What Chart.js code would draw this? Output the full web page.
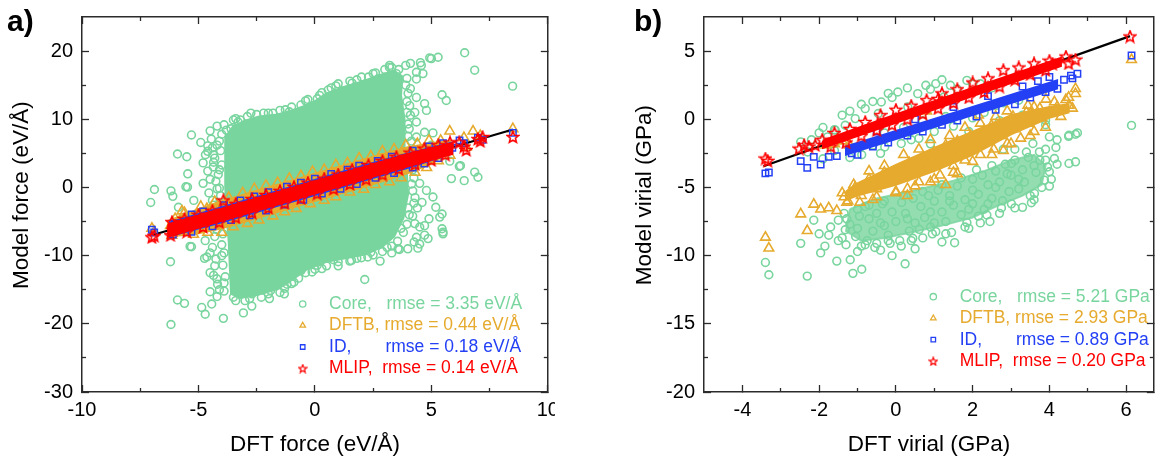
<!DOCTYPE html>
<html><head><meta charset="utf-8">
<script src="https://cdn.jsdelivr.net/npm/chart.js@4.4.1/dist/chart.umd.min.js"></script>
<style>
html,body{margin:0;padding:0;background:#fff;overflow:hidden}
#wrap{position:relative;width:1161px;height:459px;background:#fff}
#ca{position:absolute;left:0;top:0}
#cb{position:absolute;left:580px;top:0}
</style></head><body>
<div id="wrap"><canvas id="ca" width="555" height="459"></canvas><canvas id="cb" width="581" height="459"></canvas></div>
<script>
// ================= Panel a) forces =================
const forceXTicks = [-10, -5, 0, 5, 10];
const forceXMinorTicks = [-7.5, -2.5, 2.5, 7.5];
const forceYTicks = [-30, -20, -10, 0, 10, 20];
const forceYMinorTicks = [-25, -15, -5, 5, 15];
const forceFitLine = [[-7, -7], [8.5, 8.5]];
const forceLegend = ['Core,   rmse = 3.35 eV/Å', 'DFTB, rmse = 0.44 eV/Å', 'ID,       rmse = 0.18 eV/Å', 'MLIP,  rmse = 0.14 eV/Å'];

// outline of the saturated (fully overlapping) Core cloud
const coreForceCloud = [[-3.85,7.4],[-3.5,9.0],[-3.0,9.8],[-2.4,10.4],[-1.6,10.7],[-0.8,11.5],[-0.1,12.4],[0.5,13.8],[1.2,14.7],[2.0,15.5],[2.8,16.5],[3.4,17.1],[3.75,16.3],[3.7,13.5],[3.85,10.0],[3.85,6.0],[3.95,2.0],[4.0,-1.0],[3.8,-4.5],[3.4,-7.2],[2.9,-8.7],[2.2,-9.8],[1.3,-10.4],[0.5,-10.9],[-0.3,-11.9],[-1.0,-13.6],[-1.6,-14.9],[-2.4,-15.7],[-3.2,-16.2],[-3.6,-15.6],[-3.65,-12.0],[-3.7,-8.0],[-3.8,-4.0],[-3.85,0.0],[-3.85,4.0],[-3.85,7.4]];
const coreForce = [[-5.9,4.9],[-5.5,4.5],[-5.3,7.7],[-4.5,8.3],[-4.2,9.0],[-3.9,9.2],[-3.5,9.9],[-3.4,10.1],[-2.75,10.9],[-2.0,10.9],[-1.27,11.4],[-0.64,11.1],[-0.07,12.0],[0.57,14.3],[1.14,14.1],[-4.7,4.8],[-4.36,4.8],[-4.36,3.0],[-5.46,2.0],[-5.47,0.05],[-4.8,0.6],[-4.2,-0.2],[-5.54,0.1],[-6.89,-0.3],[-6.18,-0.5],[-6.1,-1.3],[-7.05,-2.2],[-5.2,-1.9],[-5.86,-2.9],[-4.6,6.1],[-4.9,6.6],[-4.4,5.8],[-4.6,2.4],[-4.8,3.6],[-4.5,1.2],
[-6.2,-10.9],[-5.36,-8.65],[-5.3,-8.7],[-4.74,-10.4],[-4.64,-10.2],[-4.71,-7.8],[-4.21,-13.4],[-4.18,-14.2],[-5.9,-16.5],[-5.6,-17.0],[-6.18,-20.1],[-4.86,-17.6],[-4.71,-18.6],[-4.43,-17.1],[-3.93,-19.2],[-3.07,-18.4],[-2.71,-17.4],[-1.95,-16.3],[-1.31,-15.6],[-0.12,-12.4],[-1.0,-14.1],[-4.5,-5.5],[-4.6,-3.6],[-4.4,-8.8],[-4.3,-11.5],[-4.1,-15.0],[-4.5,-12.5],[-4.9,-5.0],[-4.4,-1.9],
[2.14,-13.5],[2.8,-10.8],[1.57,-10.7],[2.27,-10.2],[3.63,-9.1],[3.99,-9.0],[4.42,-8.9],[4.26,-8.0],[4.5,-8.3],[4.86,-7.5],[5.5,-6.55],[5.46,-6.06],[5.5,-6.8],[4.71,-7.0],[4.5,-5.8],[4.71,-5.6],[4.29,-5.3],[5.36,-4.35],[4.9,-4.6],[5.46,-3.9],[5.19,-2.9],[5.07,-1.4],[4.79,-0.44],[3.57,-9.0],[4.36,-7.3],[4.4,-3.0],[4.6,-2.2],[4.3,-1.5],[4.5,0.6],[4.2,-4.2],[3.3,-9.6],[1.0,-11.5],[0.3,-11.9],
[4.93,19.0],[5.29,19.1],[5.0,18.9],[4.53,18.3],[6.43,19.75],[6.86,17.2],[8.49,14.86],[4.36,16.9],[4.57,17.9],[4.64,16.7],[4.36,15.9],[5.46,13.6],[5.64,12.75],[4.36,13.2],[4.71,12.3],[4.79,11.3],[4.07,12.0],[4.29,11.0],[4.0,9.3],[4.36,9.6],[4.71,8.1],[5.07,8.0],[4.36,7.4],[6.2,3.1],[5.86,1.3],[6.86,2.25],[7.0,1.5],[5.79,3.86],[6.25,3.2],[6.41,1.0],[3.21,17.9],[2.5,16.7],[3.3,17.6],[4.1,14.5],[4.3,5.5],[4.6,4.5],[4.2,3.2],[5.0,6.2],[4.1,18.2],[3.9,17.9],[2.0,16.2],[1.5,15.6],[0.9,14.9],[0.1,13.0],
[-4.1,6.8],[-4.0,3.3],[-4.2,-6.2],[-4.0,-10.0],[-3.9,-14.0],[-4.15,1.9],[-4.05,-2.6],[-3.2,9.9],[-2.5,10.7],[-1.8,10.9],[-1.0,11.8],[-0.4,12.7],[0.3,13.9],[1.8,15.8],[2.6,16.8],[3.0,17.3],[3.6,17.3],[3.9,15.0],[3.95,11.0],[4.0,7.5],[4.1,4.0],[4.15,0.5],[4.0,-3.0],[3.7,-6.0],[3.1,-8.8],[2.5,-9.9],[1.8,-10.4],[1.0,-10.9],[0.0,-12.0],[-0.7,-13.3],[-1.3,-14.8],[-2.0,-15.6],[-2.8,-16.3],[-3.4,-16.6],
[-3.6,8.6],[-3.3,9.6],[-2.9,10.4],[-2.2,10.9],[-1.5,11.3],[-1.1,11.1],[-0.6,12.1],[-0.3,12.9],[0.2,13.5],[0.7,14.6],[1.0,15.2],[1.6,15.3],[2.3,16.2],[2.7,15.9],[3.2,17.6],[3.5,16.7],
[3.95,16.0],[4.0,13.8],[3.95,12.6],[4.1,10.6],[4.05,8.6],[4.15,6.8],[4.05,5.2],[4.2,2.6],[4.25,1.4],[4.2,-0.5],[4.25,-2.3],[4.05,-4.0],[3.95,-5.4],[3.8,-6.6],[3.55,-7.9],
[3.3,-8.6],[2.9,-9.4],[2.4,-9.5],[2.0,-10.3],[1.5,-10.8],[0.8,-10.6],[0.5,-11.5],[0.1,-11.4],[-0.4,-12.5],[-0.6,-12.2],[-0.9,-13.9],[-1.2,-14.2],[-1.5,-15.4],[-1.9,-15.1],[-2.3,-16.1],[-2.7,-15.6],[-3.0,-16.6],[-3.5,-16.1],
[-3.9,-15.2],[-3.85,-13.1],[-3.95,-11.4],[-3.9,-9.6],[-4.0,-8.4],[-3.95,-6.8],[-4.1,-5.4],[-4.0,-4.2],[-4.2,-3.2],[-4.05,-1.2],[-4.1,-0.1],[-4.25,0.9],[-4.1,2.6],[-4.3,4.3],[-4.05,5.4],[-4.2,6.2],[-4.0,7.8],[-3.8,8.4],
[-4.45,7.1],[-4.6,5.3],[-4.35,3.7],[-4.55,-0.8],[-4.35,-2.6],[-4.65,-4.6],[-4.3,-7.2],[-4.5,-9.6],[-4.25,-10.5],[-4.35,-12.9],[-4.2,-16.0],[-4.5,-15.3]];

const dftbForceBand = [[-6.3,-4.9],[-5.0,-3.2],[-4.0,-2.0],[-3.0,-1.0],[-2.0,0.0],[-1.0,1.0],[0.0,2.0],[1.0,3.0],[2.0,4.0],[3.0,5.0],[4.0,5.9],[5.0,6.5],[5.8,6.8],[5.8,5.2],[5.0,3.5],[4.0,2.1],[3.0,1.0],[2.0,0.0],[1.0,-1.0],[0.0,-2.0],[-1.0,-3.0],[-2.0,-4.0],[-3.0,-5.0],[-4.0,-6.0],[-5.0,-6.7],[-6.3,-7.2],[-6.3,-4.9]];
const dftbForce = [[-5.6,-3.7],[-4.9,-2.8],[-4.3,-2.1],[-3.7,-1.5],[-3.1,-0.8],[-2.6,-0.2],[-2.1,0.3],[-1.6,0.7],[-1.1,1.3],[-0.6,1.7],[-0.1,2.3],[0.4,2.6],[0.9,3.3],[1.4,3.6],[1.9,4.3],[2.4,4.6],[2.9,5.3],[3.4,5.6],[3.9,6.2],[4.4,6.4],[4.9,6.9],[5.4,6.9],[5.79,8.26],[6.79,8.26],[8.5,8.6],[7.1,7.6],[6.4,7.3],
[-6.14,-7.04],[-5.57,-6.55],[-5.21,-6.9],[-4.6,-6.6],[-4.0,-6.6],[-3.5,-5.8],[-2.9,-5.3],[-2.4,-4.8],[-1.8,-4.2],[-1.3,-3.6],[-0.8,-3.1],[-0.2,-2.4],[0.4,-1.9],[0.9,-1.4],[1.5,-0.7],[2.1,-0.3],[2.6,0.4],[3.2,0.8],[3.7,1.4],[4.3,2.2],[4.8,2.9],[5.3,3.9],[5.8,4.7],[6.5,5.9],
[-7.0,-6.0],[-6.9,-6.5],[-6.2,-5.6],[-5.71,-3.47],[-6.0,-4.6],[-4.64,-3.1]];

const idForceBand = [[-6.2,-5.1],[-4.0,-2.9],[-2.0,-0.9],[0.0,1.1],[2.0,3.1],[4.0,5.0],[5.9,6.6],[5.9,5.0],[4.0,2.9],[2.0,0.9],[0.0,-1.1],[-2.0,-3.1],[-4.0,-5.1],[-6.2,-7.1],[-6.2,-5.1]];
const idForce = [[-5.29,-3.96],[-4.8,-3.5],[-3.9,-2.6],[-3.2,-1.9],[-2.6,-1.3],[-2.0,-0.7],[-1.2,0.1],[-0.6,0.7],[0.0,1.3],[0.7,2.0],[1.4,2.6],[1.9,3.2],[2.7,3.9],[3.3,4.5],[4.2,5.4],[4.9,6.0],[5.5,6.5],
[-6.1,-6.9],[-5.3,-6.5],[-4.4,-5.7],[-3.6,-4.8],[-2.8,-4.1],[-2.1,-3.4],[-1.3,-2.5],[-0.5,-1.8],[0.3,-0.9],[1.1,-0.2],[1.8,0.5],[2.6,1.4],[3.4,2.1],[4.2,2.9],[4.7,3.5],[5.3,4.3],
[-7.0,-6.2],[-6.9,-6.6],[6.21,6.9],[6.4,6.5],[7.0,7.3],[7.2,7.0],[8.5,8.0],[5.9,5.8],[-6.1,-5.3]];

const mlipForceBand = [[-6.3,-5.4],[-4.0,-3.1],[-2.0,-1.1],[0.0,0.9],[2.0,2.9],[4.0,4.9],[5.9,6.5],[5.9,4.9],[4.0,3.1],[2.0,1.1],[0.0,-0.9],[-2.0,-2.9],[-4.0,-4.9],[-6.3,-7.2],[-6.3,-5.4]];
const mlipForce = [[-6.14,-5.08],[-5.6,-4.6],[-5.0,-4.0],[-4.4,-3.4],[-3.93,-1.9],[-3.4,-2.4],[-2.7,-1.7],[-2.1,-1.1],[-1.5,-0.5],[-0.9,0.1],[-0.3,0.7],[0.4,1.3],[1.0,1.9],[1.6,2.6],[2.3,3.3],[2.9,3.9],[3.5,4.5],[4.1,5.1],[4.7,5.7],[5.3,6.2],[5.8,6.6],
[-6.2,-7.0],[-5.5,-6.5],[-4.8,-5.8],[-4.1,-5.1],[-3.4,-4.4],[-2.7,-3.7],[-2.0,-3.0],[-1.3,-2.3],[-0.6,-1.6],[0.1,-0.9],[0.8,-0.2],[1.5,0.5],[2.2,1.2],[2.9,1.9],[3.6,2.7],[4.3,3.4],[5.0,4.0],[5.6,4.8],
[-7.0,-7.3],[-6.9,-7.1],[-6.1,-6.2],[-6.0,-5.6],[6.2,6.6],[6.4,6.0],[6.5,5.5],[7.0,7.1],[7.1,6.8],[7.2,7.4],[8.5,7.4]];

// ================= Panel b) virials =================
const virialXTicks = [-4, -2, 0, 2, 4, 6];
const virialXMinorTicks = [-3, -1, 1, 3, 5];
const virialYTicks = [-20, -15, -10, -5, 0, 5];
const virialYMinorTicks = [-17.5, -12.5, -7.5, -2.5, 2.5];
const virialFitLine = [[-3.45, -3.45], [6.1, 6.1]];
const virialLegend = ['Core,   rmse = 5.21 GPa', 'DFTB, rmse = 2.93 GPa', 'ID,       rmse = 0.89 GPa', 'MLIP,  rmse = 0.20 GPa'];

const coreVirialCloud = [[-1.2,-6.6],[-0.5,-5.8],[0.5,-5.2],[1.5,-4.5],[2.3,-3.8],[3.0,-3.0],[3.6,-2.6],[3.9,-3.4],[3.8,-4.8],[3.3,-5.6],[2.6,-6.4],[2.0,-7.2],[1.2,-7.8],[0.4,-8.3],[-0.3,-8.7],[-0.9,-8.9],[-1.3,-8.2],[-1.2,-6.6]];
const coreVirial = [[-3.4,-10.5],[-3.31,-11.4],[-2.48,-9.1],[-2.31,-11.5],[-2.14,-7.4],[-1.96,-9.8],[-1.75,-8.5],[-1.54,-10.4],[-1.19,-10.3],[-1.12,-11.3],[-0.89,-11.0],[-1.28,-7.3],[-1.32,-8.1],[0.14,-9.3],[0.24,-10.6],[0.44,-8.73],[1.04,-8.24],[0.61,-8.07],[1.53,-9.05],[1.85,-7.58],[2.15,-7.1],[2.37,-7.02],[2.78,-5.98],[3.01,-6.2],[3.3,-6.46],[3.53,-6.12],[3.61,-5.44],[3.87,-4.46],[4.0,-3.85],[4.2,-3.3],[4.13,-2.88],[4.51,-3.24],[4.68,-3.12],[4.17,-2.07],[4.0,-1.29],[4.51,-1.17],[4.73,-1.0],[3.57,-1.78],[3.74,-2.39],[3.4,-2.4],[3.1,-2.2],[2.8,-2.2],[3.01,-3.24],[-0.5,-9.1],[-0.2,-8.9],[-0.8,-9.2],[-1.0,-6.6],[-0.7,-6.3],[-0.3,-6.0],[0.2,-5.6],[0.7,-5.3],[1.2,-4.8],[1.7,-4.3],[2.1,-3.7],[2.5,-3.4],[2.0,-5.2],[1.4,-6.0],[0.9,-6.8],[0.3,-7.3],[-0.4,-7.6],[2.6,-5.0],[3.2,-4.4],[3.6,-3.4],[2.9,-4.0],[1.0,-7.6],[1.9,-6.6],[-1.0,-8.0],[0.5,-9.5],[-0.1,-10.0],[1.2,-9.0],[2.4,-6.2],[3.9,-3.0],[4.2,-1.5],[3.9,-0.07],[3.9,-0.4],[4.5,-1.25],[4.68,-1.1],[6.14,-0.45],
[-1.35,-6.9],[-1.2,-7.7],[-1.05,-8.6],[-1.3,-9.2],[-0.95,-7.1],[-0.8,-6.4],[-0.7,-7.3],[-0.6,-8.2],[-0.75,-8.9],[-0.5,-6.9],[-0.55,-9.4],[-0.35,-6.2],[-0.3,-7.8],[-0.2,-8.5],[-0.1,-6.8],[0.0,-7.5],[-0.15,-9.1],[0.15,-6.1],[0.25,-6.9],[0.35,-8.2],[0.45,-5.8],[0.5,-7.6],[0.4,-8.9],[0.65,-6.4],[0.75,-7.2],[0.85,-5.6],[0.95,-8.4],[1.0,-6.0],[0.9,-7.9],[1.1,-5.2],[1.2,-6.8],[1.3,-7.5],[1.4,-5.6],[1.45,-8.3],[1.5,-6.3],[1.6,-4.9],[1.7,-7.0],[1.8,-5.9],[1.9,-8.0],[2.0,-4.4],[2.0,-6.2],[2.15,-5.5],[2.25,-4.1],[2.3,-6.6],[2.4,-4.8],[2.5,-5.8],[2.45,-7.5],[2.6,-3.8],[2.7,-4.6],[2.75,-6.5],[2.85,-3.3],[2.95,-5.3],[3.0,-4.1],[3.1,-3.0],[3.2,-5.1],[3.3,-3.7],[3.35,-4.6],[3.45,-2.8],[3.5,-5.6],[3.65,-3.9],[3.75,-3.0],[3.8,-5.0],[3.9,-2.2],[4.05,-4.4],[3.95,-3.5],[-1.7,-7.9],[-1.85,-9.3],[-1.5,-8.9],[-2.0,-8.4],
[-0.9,-9.3],[-0.4,-9.6],[0.1,-8.9],[0.7,-8.7],[1.3,-8.4],[1.8,-7.9],[2.2,-7.6],[2.7,-6.9],[3.1,-6.5],[3.6,-5.9],[4.0,-4.9],[-1.4,-8.7],[-1.5,-7.4],[-1.0,-9.7],
[0.05,2.0],[-0.8,0.78],[0.78,2.49],[1.04,2.61],[1.85,2.85],[-0.38,1.27],[-1.06,0.05],[-1.32,-0.44],[-1.58,-0.8],[-2.48,-1.66],[0.14,-1.78],[-0.89,-2.6],[1.42,2.49],[0.57,1.88],[1.25,1.63],[0.31,0.9],[-0.46,0.42],[-1.78,-1.29],[-1.6,-0.76],[-0.29,-2.03],[-1.2,-2.8],[-1.6,-2.3],[-0.6,-1.9],[0.6,-1.4],[1.0,-0.9],[1.5,-0.5],[2.0,0.1],[2.3,0.5],[1.7,0.3],[2.5,2.3],[2.2,2.6],[1.6,2.2],[-0.1,1.6],[-1.4,0.3],[-2.0,-1.0],[-1.1,-2.1],[0.4,-1.5],[2.8,1.2],[3.2,1.4],
[-2.2,-1.5],[-1.9,-0.6],[-1.2,0.6],[-0.9,1.1],[-0.6,1.3],[-0.2,1.9],[0.3,2.3],[0.9,2.2],[1.2,2.9],[2.0,2.6],[-0.3,-1.0],[0.2,-0.6],[0.7,-0.1],[1.3,0.2],[2.6,1.0],[3.3,0.3],[3.6,0.0],[-2.3,-2.4],[-1.9,-2.9],[-0.4,-2.5],[0.9,-1.8],[1.9,-0.9],[2.7,-0.1]];

const dftbVirialBand = [[-1.3,-5.3],[-1.0,-4.7],[0.0,-3.35],[1.0,-2.1],[2.0,-0.9],[3.0,0.3],[4.0,0.9],[4.5,1.1],[4.5,0.5],[4.0,0.1],[3.0,-1.1],[2.0,-2.6],[1.0,-3.8],[0.0,-4.8],[-1.0,-5.6],[-1.3,-5.9],[-1.3,-5.3]];
const dftbVirial = [[-3.4,-8.66],[-3.31,-9.46],[-2.48,-6.95],[-2.31,-8.17],[-2.14,-6.24],[-1.96,-6.6],[-1.75,-6.5],[-1.54,-6.7],[-1.28,-6.1],[-1.06,-5.0],[-0.94,-6.1],[-1.35,-5.7],[-1.2,-5.4],
[-0.7,-3.8],[-0.3,-3.4],[0.2,-2.6],[0.6,-2.2],[0.9,-1.5],[1.4,-1.2],[1.8,-0.6],[2.2,-0.3],[2.6,0.2],[2.9,0.6],[3.44,1.02],[3.6,0.9],[3.91,1.46],[4.13,1.27],[4.43,1.44],[4.51,1.02],[4.68,2.24],[4.68,1.88],[2.15,0.3],[2.49,-0.45],
[-0.5,-5.7],[0.0,-5.4],[0.5,-4.9],[1.0,-4.4],[1.5,-3.9],[2.0,-3.1],[2.5,-2.6],[3.0,-1.8],[3.5,-1.2],[3.9,-0.6],[0.3,-5.6],[1.3,-4.8],[2.8,-2.3],
[-1.4,-5.4],[-1.1,-4.8],[-0.9,-5.6],[-0.7,-4.4],[-0.5,-5.1],[-0.3,-3.9],[-0.2,-4.6],[0.0,-5.3],[0.1,-3.7],[0.2,-4.3],[0.35,-3.2],[0.5,-3.9],[0.6,-4.6],[0.75,-2.9],[0.8,-3.5],[1.0,-2.4],[1.05,-3.2],[1.15,-4.1],[1.3,-1.9],[1.35,-2.7],[1.5,-3.4],[1.6,-1.6],[1.7,-2.3],[1.8,-3.0],[1.95,-1.2],[2.05,-1.9],[2.2,-2.6],[2.3,-0.8],[2.4,-1.5],[2.55,-2.2],[2.7,-0.4],[2.75,-1.2],[2.9,-1.8],[3.05,0.2],[3.1,-0.7],[3.25,-1.4],[3.4,0.5],[3.45,-0.3],[3.6,-0.9],[3.75,0.8],[3.8,0.1],[4.0,0.5],[4.2,0.9],[4.3,0.2],[4.5,1.6],[4.6,0.8],[-1.25,-6.0],[-0.6,-5.9],[0.3,-5.1],[0.9,-4.6],[1.6,-4.0],
[6.14,4.37],[-1.83,-1.9],[-1.6,-1.8],[-1.4,-1.6],[-1.2,-1.9],[0.8,0.6]];

const idVirialBand = [[-1.3,-2.0],[0.0,-0.85],[2.0,0.91],[4.2,2.85],[4.2,2.25],[2.0,0.31],[0.0,-1.45],[-1.3,-2.6],[-1.3,-2.0]];
const idVirial = [[-3.4,-3.97],[-3.31,-3.9],[-2.48,-3.07],[-2.31,-3.56],[-2.14,-2.76],[-1.96,-3.32],[-1.75,-2.76],[-1.54,-2.7],[-1.15,-2.5],[-1.0,-2.6],[-0.6,-2.0],[-0.2,-1.7],[0.3,-1.2],[0.7,-0.9],[1.2,-0.4],[1.6,-0.1],[2.1,0.2],[2.6,0.7],[3.1,1.1],[3.5,1.6],[3.9,2.0],[4.21,2.24],[4.38,2.9],[4.56,3.2],[4.73,3.34],[6.14,4.68],[3.7,2.8],[3.3,2.4],[2.4,1.7],[1.5,0.9],[0.5,0.0],[-0.5,-0.9],[4.0,3.1],[4.6,3.0]];

const mlipVirialBand = [[-1.9,-1.55],[0.0,0.35],[2.0,2.3],[4.3,4.5],[4.3,3.9],[2.0,1.7],[0.0,-0.25],[-1.9,-2.1],[-1.9,-1.55]];
const mlipVirial = [[-3.4,-2.88],[-3.34,-3.05],[-2.52,-2.15],[-2.39,-1.9],[-2.27,-2.0],[-2.1,-1.9],[-1.92,-1.5],[-1.6,-1.0],[-1.2,-0.7],[-0.8,-0.2],[-0.4,0.3],[0.0,0.7],[0.4,1.0],[0.8,1.4],[1.2,1.9],[1.6,2.2],[2.0,2.7],[2.4,3.0],[2.8,3.6],[3.2,3.8],[3.6,4.1],[4.0,4.3],[4.08,4.07],[4.43,4.6],[4.68,4.37],[4.5,4.1],[6.1,6.07],[-1.7,-2.0],[-1.3,-1.7],[-0.9,-1.2],[-0.5,-0.8],[-0.1,-0.4],[0.3,0.0],[0.7,0.4],[1.1,0.8],[1.5,1.2],[1.9,1.6],[2.3,2.0],[2.7,2.4],[3.1,2.9],[3.5,3.3],[3.9,3.6],[1.1,1.5]];

// ================= styling & chart construction =================
const COL = {core: '#79d59e', dftb: '#e6aa2e', id: '#2340f5', mlip: '#ff0000'};
const AXC = '#2b2b2b';
const FONT = "'Liberation Sans', Arial, Helvetica, sans-serif";
Chart.defaults.font.family = FONT;
Chart.defaults.color = '#000';

function starImage(size, color, lw) {
  const c = document.createElement('canvas');
  c.width = size; c.height = size;
  const g = c.getContext('2d');
  const cx = size / 2, cy = size / 2 + 0.4;
  const R = size / 2 - lw / 2 - 0.2, r = R * 0.45;
  g.beginPath();
  for (let i = 0; i < 10; i++) {
    const a = -Math.PI / 2 + i * Math.PI / 5;
    const rr = (i % 2) ? r : R;
    g.lineTo(cx + rr * Math.cos(a), cy + rr * Math.sin(a));
  }
  g.closePath();
  g.strokeStyle = color; g.lineWidth = lw; g.lineJoin = 'miter';
  g.stroke();
  return c;
}
const STAR = starImage(14, COL.mlip, 1.6);
const STAR_LEG = starImage(10, COL.mlip, 1.2);

const toXY = arr => arr.map(p => ({x: p[0], y: p[1]}));

function polyDS(arr, color, order) {
  return {type: 'line', data: toXY(arr), order, fill: 'shape', backgroundColor: color,
          borderColor: color, borderWidth: 2, pointRadius: 0, tension: 0};
}
function ptsDS(arr, style, color, radius, bw, order) {
  return {type: 'scatter', data: toXY(arr), order, pointStyle: style, pointRadius: radius,
          borderWidth: bw, borderColor: color, backgroundColor: 'rgba(0,0,0,0)'};
}
function lineDS(arr, order) {
  return {type: 'line', data: toXY(arr), order, borderColor: '#000', borderWidth: 2.2,
          pointRadius: 0, fill: false, tension: 0};
}

function makeAxis(pos, min, max, vals, len, weight, size, lab) {
  const vertical = pos === 'left' || pos === 'right';
  const o = {
    type: 'linear', position: pos, min, max, weight, bounds: 'data',
    afterBuildTicks: s => { s.ticks = vals.map(v => ({value: v})); },
    afterFit: s => {
      if (vertical) s.width = size; else s.height = size;
      s.paddingLeft = 0; s.paddingRight = 0; s.paddingTop = 0; s.paddingBottom = 0;
    },
    grid: {display: true, drawOnChartArea: false, drawTicks: true, tickLength: -len, tickColor: AXC, tickWidth: 1.3},
    border: {display: len > 5, color: AXC, width: 1.5},
    ticks: {display: false}
  };
  if (lab) {
    o.ticks = {display: true, autoSkip: false, maxRotation: 0, minRotation: 0, padding: lab.pad,
               color: '#000', font: {size: 20}, callback: v => String(v)};
    o.title = {display: true, text: lab.title, color: '#000', font: {size: 22.5}, padding: lab.titlePad};
  }
  return o;
}

function buildChart(id, P) {
  const legendStyles = [
    {color: COL.core, style: 'circle'},
    {color: COL.dftb, style: 'triangle'},
    {color: COL.id, style: 'rect'},
    {color: COL.mlip, style: STAR_LEG}
  ];
  const placeLegend = {
    id: 'placeLegend',
    afterUpdate(chart) {
      const lg = chart.legend;
      lg.left = P.legend.left; lg.top = P.legend.top;
      lg.width = 285; lg.height = 120;
      lg.right = lg.left + 285; lg.bottom = lg.top + 120;
    }
  };
  return new Chart(document.getElementById(id), {
    type: 'scatter',
    data: {datasets: [
      polyDS(P.coreCloud, P.cloudFill, 10),
      ptsDS(P.core, 'circle', COL.core, 3.9, 1.6, 9),
      polyDS(P.dftbBand, COL.dftb, 8),
      ptsDS(P.dftb, 'triangle', COL.dftb, 5.6, 1.6, 7),
      lineDS(P.fit, 6),
      polyDS(P.idBand, COL.id, 5),
      ptsDS(P.id, 'rect', COL.id, 4.5, 1.5, 4),
      polyDS(P.mlipBand, COL.mlip, 3),
      ptsDS(P.mlip, STAR, COL.mlip, 6, 1, 2)
    ]},
    options: {
      responsive: false, animation: false, devicePixelRatio: 1, events: [],
      layout: {padding: {left: P.padL, right: P.padR, top: 0, bottom: 0}},
      scales: {
        x: makeAxis('bottom', P.xMin, P.xMax, P.xTicks, 7, 1, 67, {pad: 13, title: P.xTitle, titlePad: {top: 0, bottom: 0.5}}),
        xMinor: makeAxis('bottom', P.xMin, P.xMax, P.xMinor, 4, 0, 0),
        xTop: makeAxis('top', P.xMin, P.xMax, P.xTicks, 7, 1, 0),
        xTopMinor: makeAxis('top', P.xMin, P.xMax, P.xMinor, 4, 0, 0),
        y: makeAxis('left', P.yMin, P.yMax, P.yTicks, 7, 1, P.yAxisW, {pad: 16, title: P.yTitle, titlePad: {top: P.yTitleTop, bottom: 0}}),
        yMinor: makeAxis('left', P.yMin, P.yMax, P.yMinor, 4, 0, 0),
        yRight: makeAxis('right', P.yMin, P.yMax, P.yTicks, 7, 1, 0),
        yRightMinor: makeAxis('right', P.yMin, P.yMax, P.yMinor, 4, 0, 0)
      },
      plugins: {
        tooltip: {enabled: false},
        title: {display: true, text: P.panel, align: 'start', color: '#000',
                font: {size: 30, weight: 'bold'}, padding: {top: 5, bottom: -24}},
        legend: {
          display: true, position: 'chartArea', align: 'start',
          labels: {
            usePointStyle: true, boxWidth: 6, boxHeight: 4.5, padding: 4,
            font: {size: 17.5},
            generateLabels: () => P.legendText.map((t, i) => ({
              text: '   ' + t, fontColor: legendStyles[i].color, fillStyle: 'rgba(0,0,0,0)',
              strokeStyle: legendStyles[i].color, lineWidth: 1.3, pointStyle: legendStyles[i].style,
              hidden: false, datasetIndex: i
            }))
          }
        }
      }
    },
    plugins: [placeLegend]
  });
}

buildChart('ca', {
  panel: 'a)', padL: 7, padR: 7, yAxisW: 75, yTitleTop: 1.7,
  xMin: -10, xMax: 10, yMin: -30, yMax: 25,
  xTicks: forceXTicks, xMinor: forceXMinorTicks, yTicks: forceYTicks, yMinor: forceYMinorTicks,
  xTitle: 'DFT force (eV/Å)', yTitle: '   Model force (eV/Å)',
  cloudFill: COL.core,
  coreCloud: coreForceCloud, core: coreForce, dftbBand: dftbForceBand, dftb: dftbForce,
  idBand: idForceBand, id: idForce, mlipBand: mlipForceBand, mlip: mlipForce, fit: forceFitLine,
  legendText: forceLegend, legend: {left: 295.7, top: 291.25}
});

buildChart('cb', {
  panel: 'b)', padL: 54, padR: 2, yAxisW: 70, yTitleTop: -2.5,
  xMin: -5, xMax: 6.72, yMin: -20, yMax: 7.5,
  xTicks: virialXTicks, xMinor: virialXMinorTicks, yTicks: virialYTicks, yMinor: virialYMinorTicks,
  xTitle: 'DFT virial (GPa)', yTitle: '   Model virial (GPa)',
  cloudFill: 'rgba(121,213,158,0.8)',
  coreCloud: coreVirialCloud, core: coreVirial, dftbBand: dftbVirialBand, dftb: dftbVirial,
  idBand: idVirialBand, id: idVirial, mlipBand: mlipVirialBand, mlip: mlipVirial, fit: virialFitLine,
  legendText: virialLegend, legend: {left: 346.3, top: 283.95}
});
</script>
</body></html>
